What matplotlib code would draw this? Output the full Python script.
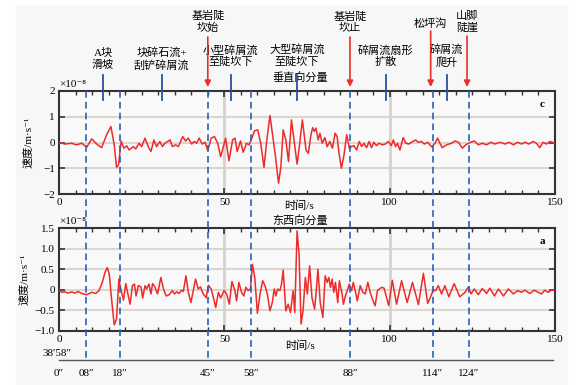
import matplotlib
matplotlib.use("Agg")
import matplotlib.pyplot as plt
from matplotlib.lines import Line2D
from matplotlib.patches import Rectangle, FancyArrowPatch
from matplotlib.transforms import blended_transform_factory
from matplotlib.ticker import MultipleLocator

plt.rcParams["font.family"] = ["Liberation Serif", "Noto Sans CJK SC", "DejaVu Sans"]
plt.rcParams["font.size"] = 8

# vertical component (panel c), units 1e-8 m/s
vert_t = [0, 1.8, 3.8, 5.3, 6.9, 8.4, 9.9, 11.4, 12.9, 14.4, 15.7, 16.7, 17.4, 18.0, 18.8,
          19.6, 20.5, 21.2, 22.5, 23.2, 24.2, 25.0, 26.0, 27.0, 27.8, 28.7, 29.5, 30.5, 31.3,
          32.0, 33.6, 34.3, 35.3, 36.1, 37.4, 38.3, 39.1, 40.1, 40.9, 41.6, 42.4, 43.3, 44.2,
          45.0, 46.0, 47.0, 48.0, 48.9, 50.4, 51.4, 52.5, 53.2, 53.9, 54.9, 55.7, 56.7, 57.5,
          58.3, 59.1, 60.1, 61.0, 62.0, 62.8, 63.8, 64.6, 65.4, 66.4, 67.1, 67.8, 68.6, 69.4,
          70.3, 71.0, 72.0, 72.8, 73.6, 74.7, 75.4, 76.2, 76.7, 77.2, 77.7, 78.4, 78.9, 79.6,
          80.4, 81.1, 81.9, 82.7, 83.5, 84.1, 84.7, 85.4, 86.2, 87.0, 87.8, 88.5, 89.2, 90.0,
          90.8, 91.5, 92.2, 93.0, 93.8, 94.5, 95.2, 96.0, 96.8, 97.8, 98.7, 99.6, 100.5, 101.1,
          101.8, 102.4, 103.1, 104.1, 104.9, 105.8, 106.6, 107.9, 108.6, 109.6, 110.5, 111.5,
          112.7, 113.7, 114.5, 115.2, 115.9, 117.2, 118.7, 119.7, 120.8, 122.0, 123.0, 124.3,
          125.6, 126.8, 128.0, 129.3, 130.6, 131.8, 133.3, 134.9, 136.1, 137.4, 138.7, 139.9,
          140.9, 142.1, 143.4, 144.4, 145.4, 146.4, 147.4, 148.5, 150.0]
vert_v = [0, -0.06, -0.03, -0.09, -0.03, -0.18, 0.14, -0.06, -0.2, 0.3, 0.62, -0.09, -0.96, -0.87, 0.06,
          -0.22, -0.13, -0.29, -0.16, -0.25, -0.03, -0.16, 0.17, -0.16, -0.35, 0.1, -0.16, 0.04, -0.16,
          -0.03, 0.1, -0.16, -0.09, -0.16, 0.23, 0.06, 0.17, -0.06, 0.04, -0.03, 0.17, -0.06, 0.01,
          -0.32, 0.17, 0.23, -0.03, -0.55, 0.17, -0.71, 0.1, 0.17, -0.35, 0.06, -0.38, -0.03, -0.09,
          0.17, 0.45, 0.49, -0.03, -0.97, 0.04, 1.05, 0.3, -0.48, -1.58, -0.94, 0.49, 0.1, -0.74,
          0.88, 0.17, -0.84, -0.03, 0.88, -0.29, -0.42, 0.3, 0.58, 0.43, 0.56, 0.1, 0.36, -0.03,
          0.19, -0.16, 0.04, -0.22, 0.36, 0.23, -0.42, -1.0, -0.48, 0.3, -0.22, -0.16, -0.12, -0.29,
          0.04, -0.16, -0.03, -0.2, 0.04, -0.2, 0.01, -0.12, -0.03, -0.09, -0.06, 0.04, -0.12, 0.1,
          -0.16, -0.03, -0.29, 0.19, -0.03, -0.06, 0.01, 0.1, 0.01, 0.04, -0.06, 0.01,
          -0.17, -0.03, 0.17, -0.03, -0.2, -0.09, -0.03, 0.06, 0.01, -0.22, -0.09, 0,
          0.06, -0.09, -0.03, -0.09, 0.01, -0.06, 0.01, -0.06, 0.01, -0.09, 0.01, -0.06,
          0.01, -0.06, 0.04, -0.03, -0.2, 0.01, -0.06, 0.04, -0.03]

# east-west component (panel a)
ew_t = [0, 0.8, 1.8, 2.8, 3.8, 4.8, 5.8, 6.9, 8.4, 9.9, 11.1, 12.1, 13.1, 13.9, 14.6, 15.2,
        15.9, 16.7, 17.4, 18.1, 18.8, 19.5, 20.2, 20.8, 21.5, 22.2, 22.8, 23.3, 24.0, 24.8,
        25.3, 26.0, 26.5, 27.2, 27.8, 28.3, 29.0, 29.8, 30.8, 31.6, 32.4, 33.3, 34.3, 34.9,
        35.6, 36.3, 37.1, 37.6, 38.4, 39.1, 39.9, 40.6, 41.3, 42.1, 42.8, 43.6, 44.5, 45.2,
        46.0, 46.7, 47.4, 48.2, 48.9, 49.9, 50.7, 51.5, 52.3, 53.2, 53.7, 54.4, 55.2, 55.9,
        56.5, 57.2, 57.9, 58.5, 59.2, 60.0, 60.8, 61.6, 62.3, 63.0, 63.8, 64.5, 65.1, 65.6,
        66.1, 66.8, 67.3, 67.8, 68.6, 69.3, 70.0, 70.8, 71.3, 72.0, 72.6, 73.2, 73.8, 74.5,
        75.1, 75.8, 76.5, 77.3, 77.8, 78.3, 79.0, 79.8, 80.5, 81.1, 81.6, 82.1, 82.6, 83.1,
        83.6, 84.3, 84.8, 85.6, 86.0, 86.6, 87.0, 87.8, 88.5, 89.0, 89.7, 90.2, 91.1, 91.9,
        92.6, 93.4, 94.1, 94.8, 95.6, 96.3, 96.9, 97.6, 98.3, 99.7, 100.8, 102.1, 103.6, 105.3,
        106.9, 108.7, 110.2, 111.5, 112.5, 113.2, 113.9, 114.7, 115.7, 116.7, 117.9, 119.5,
        121.2, 122.8, 123.8, 124.6, 125.6, 126.8, 128.0, 129.3, 130.3, 131.7, 132.9, 134.4,
        135.9, 137.4, 138.7, 139.9, 140.9, 142.4, 143.7, 144.9, 145.9, 146.9, 147.9, 148.9, 150.0]
ew_v = [0, -0.06, -0.05, -0.08, -0.05, -0.08, -0.04, -0.09, -0.12, -0.06, -0.09, -0.02, 0.18, 0.42, 0.54, 0.38,
        -0.23, -0.85, -0.71, 0.26, -0.02, -0.25, 0.15, -0.09, -0.35, 0.1, 0.14, -0.15, 0.1, 0.07,
        -0.2, 0.1, 0.02, 0.14, -0.1, 0.15, 0.07, -0.1, 0.3, 0.02, -0.15, -0.12, -0.02, -0.1,
        -0.05, -0.09, -0.01, -0.04, 0.34, -0.06, -0.31, -0.02, 0.26, 0.02, 0.07, -0.1, -0.19, 0.11,
        0.02, -0.19, -0.43, -0.06, -0.2, -0.02, -0.1, -0.35, 0.2, -0.02, -0.27, 0.18, -0.06, -0.15,
        0.06, -0.02, 0.02, 0.62, 0.3, -0.57, -0.1, 0.22, 0.1, -0.1, -0.51, -0.31, 0.02, -0.15,
        0.02, -0.02, 0.14, 0.48, -0.51, -0.35, -0.55, -0.02, -0.55, 1.43, 0.86, -0.83, -0.51, 0.3,
        -0.1, 0.58, -0.19, -0.47, -0.02, 0.5, -0.31, -0.67, 0.34, 0.18, 0.3, 0.06, 0.26, -0.06,
        0.18, -0.31, 0.22, -0.1, -0.35, -0.15, -0.06, 0.14, -0.02, 0.18, -0.06, -0.27, 0.1, -0.06,
        -0.1, 0.18, -0.06, -0.23, -0.39, -0.02, 0.02, 0.06, 0.04, -0.38, 0.23, -0.35, 0.22, -0.31,
        0.18, -0.36, 0.4, -0.33, -0.15, 0, -0.02, 0.1, -0.1, 0.1, -0.17, 0.15,
        -0.17, -0.06, 0.07, -0.1, 0.02, -0.12, 0.03, -0.09, 0.04, -0.15, 0.02, -0.15,
        0.02, -0.1, -0.02, -0.06, -0.01, -0.09, -0.01, -0.06, -0.1, -0.01, -0.06, -0.01, -0.02]

# event times (s)
dash_t = [8.3, 18.3, 45, 58, 88, 113.1, 124]
time_t = [0, 8.3, 18.3, 45, 58, 88, 113.1, 124]
time_labels = ["0″", "08″", "18″", "45″", "58″", "88″", "114″", "124″"]
phase_t = [13.3, 31, 52, 72, 98.8, 117.3]
phase_labels = ["A块\n滑坡", "块碎石流+\n刮铲碎屑流", "小型碎屑流\n至陡坎下",
                "大型碎屑流\n至陡坎下", "碎屑流扇形\n扩散", "碎屑流\n爬升"]
arrow_t = [45, 88, 112.4, 123.4]
arrow_labels = ["基岩陡\n坎始", "基岩陡\n坎止", "松坪沟", "山脚\n陡崖"]

W, H = 581, 385


def fx(x):
    return x / W


def fy(y):
    return 1 - y / H


fig = plt.figure(figsize=(W / 100, H / 100), dpi=100)
fig.patch.set_facecolor("white")
fig.add_artist(Rectangle((fx(16), 0), fx(567) - fx(16), fy(6), transform=fig.transFigure,
                         color="#f7f7f7", zorder=-10))

ax_v = fig.add_axes([fx(59), fy(194), fx(555) - fx(59), fy(91) - fy(194)])
ax_e = fig.add_axes([fx(59), fy(331), fx(555) - fx(59), fy(228) - fy(331)])


def style(ax, yticks, ylabels, tag):
    ax.set_facecolor("#f9f9f9")
    ax.set_xlim(0, 150)
    ax.set_ylim(yticks[0], yticks[-1])
    ax.set_xticks([0, 50, 100, 150])
    ax.xaxis.set_minor_locator(MultipleLocator(5))
    ax.set_yticks(yticks)
    ax.set_yticklabels(ylabels)
    ax.tick_params(which="both", direction="in", top=True, right=True, color="#333333",
                   labelsize=8, pad=3)
    ax.tick_params(which="major", length=4, width=1.2)
    ax.tick_params(which="minor", length=3, width=1)
    for s in ax.spines.values():
        s.set_linewidth(1.5)
        s.set_color("#333333")
    for yv in yticks[1:-1]:
        ax.axhline(yv, color="#dcd6cf", lw=1.5, zorder=0)
    for xv in (50, 100):
        ax.axvline(xv, color="#d6d2cc", lw=2, zorder=0)
    ax.text(0.975, 0.87, tag, transform=ax.transAxes, ha="center", va="center",
            fontsize=8, fontweight="bold")
    ax.text(0.0, 1.02, "×10⁻⁸", transform=ax.transAxes, ha="left", va="bottom", fontsize=8)


style(ax_v, [-2, -1, 0, 1, 2], ["−2", "−1", "0", "1", "2"], "c")
style(ax_e, [-1, -0.5, 0, 0.5, 1, 1.5], ["−1.0", "−0.5", "0", "0.5", "1.0", "1.5"], "a")

ax_v.plot(vert_t, vert_v, color="#ee2b2b", lw=1.1, zorder=3)
ax_e.plot(ew_t, ew_v, color="#ee2b2b", lw=1.1, zorder=3)

fig.text(fx(28), fy(142), "速度/m·s⁻¹", rotation=90, ha="center", va="center", fontsize=8)
fig.text(fx(24), fy(279), "速度/m·s⁻¹", rotation=90, ha="center", va="center", fontsize=8)
fig.text(fx(299), fy(206), "时间/s", ha="center", va="center", fontsize=8)
fig.text(fx(300), fy(346), "时间/s", ha="center", va="center", fontsize=8)
fig.text(fx(300), fy(220), "东西向分量", ha="center", va="center", fontsize=8)
fig.text(fx(300), fy(77), "垂直向分量", ha="center", va="center", fontsize=8)

trans = blended_transform_factory(ax_v.transData, fig.transFigure)

for t in dash_t:
    fig.add_artist(Line2D([t, t], [fy(91), fy(360)], transform=trans, color="#2d5fb8",
                          lw=1.2, ls=(0, (4, 2.5)), zorder=5))

# time axis under the panels
fig.add_artist(Line2D([0, 149.3], [fy(360), fy(360)], transform=trans, color="#555555", lw=1))
for t, lab in zip(time_t, time_labels):
    fig.text(t, fy(373), lab, transform=trans, ha="center", va="center", fontsize=8)
fig.text(fx(57), fy(353), "38′58″", ha="center", va="center", fontsize=8)

phase_y = [59, 59, 56, 55.5, 56, 56]
for t, lab, yc in zip(phase_t, phase_labels, phase_y):
    fig.add_artist(Line2D([t, t], [fy(75), fy(100)], transform=trans, color="#2850a0",
                          lw=1.3, zorder=6))
    fig.text(t, fy(yc), lab, transform=trans, ha="center", va="center", fontsize=8,
             linespacing=1.15)

arrow_y = [22, 22, 24, 22]
arrow_top = [37, 37, 31, 36]
for t, lab, yc, y0 in zip(arrow_t, arrow_labels, arrow_y, arrow_top):
    fig.add_artist(FancyArrowPatch((t, fy(y0)), (t, fy(87)), transform=trans,
                                   arrowstyle="-|>", mutation_scale=9, color="#e8302a",
                                   lw=1.2, shrinkA=0, shrinkB=0, zorder=6))
    fig.text(t, fy(yc), lab, transform=trans, ha="center", va="center", fontsize=8,
             linespacing=1.15)

fig.savefig("out.png", dpi=100, facecolor=fig.get_facecolor())
